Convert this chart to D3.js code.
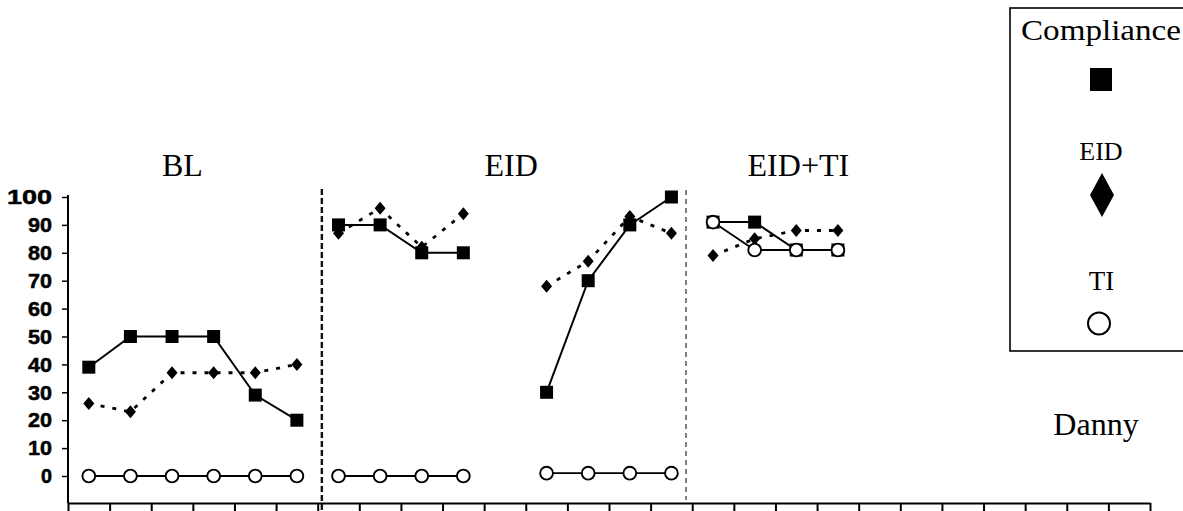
<!DOCTYPE html>
<html>
<head>
<meta charset="utf-8">
<script src="https://cdn.jsdelivr.net/npm/d3@7"></script>
<style>
  html, body { margin: 0; padding: 0; background: #fff; }
  svg { display: block; }
</style>
</head>
<body>
<svg id="chart" width="1183" height="511"></svg>
<script>
// ---------- data ----------
const sessions   = [1,2,3,4,5,6, 7,8,9,10, 11, 12,13,14,15, 16,17,18,19];
const phaseIndex = [0,0,0,0,0,0, 1,1,1,1, 1, 1,1,1,1, 2,2,2,2];
const compliance = [39,50,50,50,29,20, 90,90,80,80, null, 30,70,90,100, 91,91,81,81];
const eid        = [26,23,37,37,37,40, 87,96,82,94, null, 68,77,93,87, 79,85,88,88];
const ti         = [0,0,0,0,0,0, 0,0,0,0, null, 1,1,1,1, 91,81,81,81];
const phaseLabels = ["BL", "EID", "EID+TI"];
const phaseChanges = [6.6, 15.35];
const yTicks = [0,10,20,30,40,50,60,70,80,90,100];
const legendLabels = ["Compliance", "EID", "TI"];
const participant = "Danny";

// ---------- layout ----------
const svg = d3.select("#chart");
const x = d3.scaleLinear().domain([0.5, 26.5]).range([68, 1150]);
const y = d3.scaleLinear().domain([0, 100]).range([476, 197]);
const axisY = 503;
const serif = "'Liberation Serif', 'Times New Roman', serif";
const sans = "'Liberation Sans', Arial, sans-serif";

// ---------- axes ----------
const xTickVals = d3.range(0.5, 26.6, 1);
const gx = svg.append("g").attr("transform", `translate(0,${axisY})`)
  .call(d3.axisBottom(x).tickValues(xTickVals).tickSize(8).tickSizeOuter(0).tickFormat(""));
gx.select(".domain").attr("stroke", "#000").attr("stroke-width", 2);
gx.selectAll(".tick line").attr("stroke", "#000").attr("stroke-width", 2);

const gy = svg.append("g").attr("transform", `translate(${x(0.5)},0)`)
  .call(d3.axisLeft(y).tickValues(yTicks).tickSize(6).tickSizeOuter(0).tickFormat(""));
gy.select(".domain").remove();
gy.selectAll(".tick line").attr("stroke", "#000").attr("stroke-width", 1.5);
svg.append("line")
  .attr("x1", x(0.5)).attr("x2", x(0.5))
  .attr("y1", 195).attr("y2", axisY)
  .attr("stroke", "#000").attr("stroke-width", 2);

svg.append("g").selectAll("text").data(yTicks).join("text")
  .attr("x", 52).attr("y", d => y(d)).attr("dy", "0.36em")
  .attr("text-anchor", "end")
  .attr("font-family", sans).attr("font-weight", "bold").attr("font-size", 20)
  .attr("stroke", "#000").attr("stroke-width", 0.5)
  .attr("textLength", d => String(d).length === 1 ? 11 : (String(d).length === 2 ? 24 : 45))
  .attr("lengthAdjust", "spacingAndGlyphs")
  .text(d => d);

// ---------- phase change lines ----------
svg.append("line")
  .attr("x1", x(phaseChanges[0])).attr("x2", x(phaseChanges[0]))
  .attr("y1", 189).attr("y2", 511)
  .attr("stroke", "#111").attr("stroke-width", 2.4).attr("stroke-dasharray", "6,3");
svg.append("line")
  .attr("x1", x(phaseChanges[1])).attr("x2", x(phaseChanges[1]))
  .attr("y1", 190).attr("y2", 500)
  .attr("stroke", "#555").attr("stroke-width", 1.5).attr("stroke-dasharray", "5,4");

// ---------- phase labels ----------
const labelAt = [3.25, 11.15, 18.05];
svg.append("g").selectAll("text").data(phaseLabels).join("text")
  .attr("x", (d, i) => x(labelAt[i])).attr("y", 176)
  .attr("text-anchor", "middle")
  .attr("font-family", serif).attr("font-size", 32)
  .text(d => d);

svg.append("text").attr("x", 1096).attr("y", 435)
  .attr("text-anchor", "middle").attr("font-family", serif).attr("font-size", 32)
  .text(participant);

// ---------- series ----------
const rows = sessions.map((s, i) => ({ s, p: phaseIndex[i], c: compliance[i], e: eid[i], t: ti[i] }));

function drawLine(key, opts) {
  phaseLabels.forEach((_, p) => {
    const pts = rows.filter(r => r.p === p);
    const line = d3.line().defined(d => d[key] != null).x(d => x(d.s)).y(d => y(d[key]));
    svg.append("path").datum(pts)
      .attr("d", line)
      .attr("fill", "none")
      .attr("stroke", "#000")
      .attr("stroke-width", opts.w)
      .attr("stroke-dasharray", opts.dash || null);
  });
}
drawLine("t", { w: 1.8 });
drawLine("e", { w: 2.8, dash: "4,8" });
drawLine("c", { w: 2 });

const diamond = (cx, cy, w, h) => `M${cx},${cy - h/2}L${cx + w/2},${cy}L${cx},${cy + h/2}L${cx - w/2},${cy}Z`;

svg.append("g").selectAll("path").data(rows.filter(r => r.e != null)).join("path")
  .attr("d", d => diamond(x(d.s), y(d.e), 11, 13))
  .attr("fill", "#000");

const sq = 13;
svg.append("g").selectAll("rect").data(rows.filter(r => r.c != null)).join("rect")
  .attr("x", d => x(d.s) - sq/2).attr("y", d => y(d.c) - sq/2)
  .attr("width", sq).attr("height", sq)
  .attr("fill", "#000");

svg.append("g").selectAll("circle").data(rows.filter(r => r.t != null)).join("circle")
  .attr("cx", d => x(d.s)).attr("cy", d => y(d.t)).attr("r", 6.4)
  .attr("fill", "#fff").attr("stroke", "#000").attr("stroke-width", 1.9);

// ---------- legend ----------
const lg = svg.append("g");
lg.append("rect").attr("x", 1010).attr("y", 8).attr("width", 200).attr("height", 343)
  .attr("fill", "none").attr("stroke", "#000").attr("stroke-width", 1.6);
lg.append("text").attr("x", 1101).attr("y", 40).attr("text-anchor", "middle")
  .attr("font-family", serif).attr("font-size", 30)
  .attr("textLength", 160).attr("lengthAdjust", "spacingAndGlyphs")
  .text(legendLabels[0]);
lg.append("rect").attr("x", 1090).attr("y", 68).attr("width", 22).attr("height", 23).attr("fill", "#000");
lg.append("text").attr("x", 1101).attr("y", 160).attr("text-anchor", "middle")
  .attr("font-family", serif).attr("font-size", 26).text(legendLabels[1]);
lg.append("path").attr("d", diamond(1102, 195, 24, 44)).attr("fill", "#000");
lg.append("text").attr("x", 1101.5).attr("y", 290).attr("text-anchor", "middle")
  .attr("font-family", serif).attr("font-size", 27).text(legendLabels[2]);
lg.append("circle").attr("cx", 1099).attr("cy", 323.5).attr("r", 11)
  .attr("fill", "#fff").attr("stroke", "#000").attr("stroke-width", 2);
</script>
</body>
</html>
